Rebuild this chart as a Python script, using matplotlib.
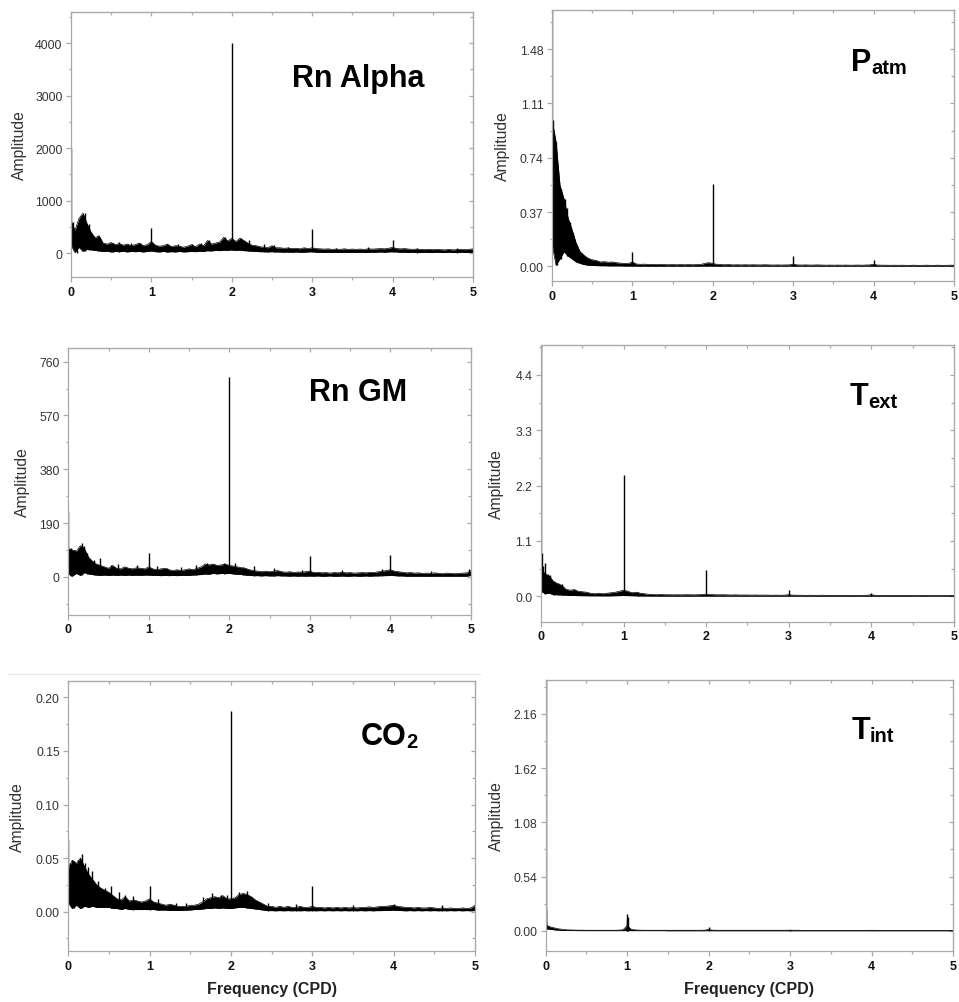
import numpy as np
import matplotlib
matplotlib.use('Agg')
import matplotlib.pyplot as plt
from matplotlib.ticker import MultipleLocator
from matplotlib.lines import Line2D

plt.rcParams['font.family'] = ['Liberation Sans', 'DejaVu Sans']

# frequency grid of the band envelopes (CPD)
freq = np.linspace(0, 5, 101)
xticks = [0, 1, 2, 3, 4, 5]

# ---- Rn Alpha ----
rna_upper = [620, 430, 660, 760, 560, 400, 290, 330, 190, 170,
             200, 160, 180, 150, 170, 140, 160, 190, 140, 160,
             220, 150, 130, 140, 170, 120, 140, 130, 110, 130,
             160, 120, 170, 140, 240, 170, 190, 210, 300, 230,
             280, 220, 280, 240, 190, 150, 140, 120, 110, 100,
             140, 100, 100, 90, 95, 85, 90, 80, 100, 85,
             100, 85, 80, 75, 80, 70, 75, 70, 80, 70,
             75, 70, 75, 70, 80, 75, 80, 85, 80, 90,
             110, 85, 80, 85, 75, 70, 75, 70, 65, 70,
             65, 70, 65, 60, 70, 60, 65, 70, 65, 70,
             80]
rna_lower = [150, 10, 110, 30, 70, 60, 50, 40, 30, 35,
             20, 30, 25, 35, 20, 30, 25, 30, 20, 30,
             40, 25, 20, 30, 20, 25, 20, 30, 20, 25,
             30, 25, 35, 30, 45, 40, 50, 45, 55, 50,
             60, 50, 55, 45, 40, 35, 30, 25, 25, 20,
             25, 20, 20, 15, 20, 15, 20, 15, 15, 20,
             25, 15, 15, 10, 15, 10, 15, 10, 15, 10,
             15, 10, 15, 10, 15, 15, 15, 20, 15, 20,
             25, 20, 15, 15, 10, 15, 10, 10, 15, 10,
             10, 15, 10, 10, 15, 10, 10, 15, 10, 10,
             15]
rna_spike_f = [0.0, 0.02, 0.07, 0.12, 0.17, 0.23, 0.34, 0.52, 0.6, 0.75,
               0.86, 1.0, 1.19, 1.33, 1.5, 1.62, 1.72, 1.91, 2.0, 2.12,
               2.22, 2.4, 2.52, 2.7, 3.0, 3.3, 3.7, 4.0, 4.3, 4.8]
rna_spike_a = [2000, 600, 520, 700, 770, 550, 330, 200, 210, 190,
               190, 470, 170, 170, 170, 190, 250, 310, 4000, 290,
               240, 170, 150, 120, 450, 100, 110, 240, 100, 100]

# ---- P atm ----
patm_upper = [1.0, 0.85, 0.55, 0.46, 0.33, 0.25, 0.16, 0.10, 0.075, 0.055,
              0.045, 0.04, 0.03, 0.032, 0.028, 0.03, 0.025, 0.022, 0.02, 0.02,
              0.03, 0.016, 0.014, 0.015, 0.013, 0.014, 0.012, 0.013, 0.012, 0.011,
              0.012, 0.011, 0.012, 0.011, 0.012, 0.011, 0.012, 0.013, 0.02, 0.025,
              0.02, 0.014, 0.012, 0.011, 0.012, 0.01, 0.011, 0.01, 0.011, 0.01,
              0.011, 0.01, 0.01, 0.011, 0.01, 0.009, 0.01, 0.009, 0.01, 0.01,
              0.015, 0.01, 0.009, 0.01, 0.009, 0.009, 0.01, 0.009, 0.008, 0.009,
              0.008, 0.009, 0.008, 0.009, 0.008, 0.008, 0.009, 0.008, 0.009, 0.01,
              0.014, 0.009, 0.008, 0.008, 0.007, 0.008, 0.007, 0.008, 0.007, 0.007,
              0.008, 0.007, 0.007, 0.008, 0.007, 0.007, 0.008, 0.007, 0.007, 0.008,
              0.008]
patm_lower = [0.15, 0.01, 0.05, 0.10, 0.07, 0.05, 0.03, 0.02, 0.012, 0.008,
              0.006, 0.005, 0.004, 0.004, 0.003, 0.003, 0.003, 0.003, 0.002, 0.002,
              0.002, 0.002, 0.001, 0.002, 0.001, 0.002, 0.001, 0.002, 0.001, 0.002,
              0.001, 0.002, 0.001, 0.002, 0.001, 0.002, 0.001, 0.002, 0.002, 0.002,
              0.002, 0.002, 0.001, 0.002, 0.001, 0.002, 0.001, 0.002, 0.001, 0.002,
              0.001, 0.002, 0.001, 0.002, 0.001, 0.002, 0.001, 0.002, 0.001, 0.002,
              0.002, 0.001, 0.002, 0.001, 0.002, 0.001, 0.002, 0.001, 0.002, 0.001,
              0.002, 0.001, 0.002, 0.001, 0.002, 0.001, 0.002, 0.001, 0.002, 0.001,
              0.002, 0.001, 0.002, 0.001, 0.002, 0.001, 0.002, 0.001, 0.002, 0.001,
              0.002, 0.001, 0.002, 0.001, 0.002, 0.001, 0.002, 0.001, 0.002, 0.001,
              0.002]
patm_spike_f = [0.0, 0.01, 0.025, 0.045, 0.065, 0.085, 0.11, 0.13, 0.165, 0.19,
                0.22, 0.26, 1.0, 1.93, 2.0, 3.0, 4.0]
patm_spike_a = [2.0, 1.0, 0.6, 0.85, 0.66, 0.5, 0.53, 0.35, 0.46, 0.40,
                0.3, 0.23, 0.1, 0.025, 0.56, 0.071, 0.04]

# ---- Rn GM ----
rngm_upper = [100, 95, 90, 110, 100, 70, 55, 45, 40, 35,
              30, 40, 30, 28, 35, 30, 28, 32, 30, 28,
              35, 28, 25, 28, 30, 25, 22, 25, 22, 25,
              28, 25, 30, 35, 45, 42, 45, 40, 42, 45,
              40, 38, 35, 32, 30, 25, 22, 20, 18, 20,
              18, 20, 22, 18, 16, 18, 15, 17, 16, 18,
              20, 15, 16, 14, 15, 13, 15, 14, 16, 14,
              15, 13, 14, 15, 14, 16, 15, 18, 20, 22,
              25, 20, 18, 16, 14, 15, 13, 14, 12, 13,
              12, 14, 12, 11, 13, 12, 11, 12, 13, 14,
              22]
rngm_lower = [10, 2, 12, 5, 15, 10, 8, 6, 5, 6,
              5, 6, 5, 6, 5, 6, 5, 6, 5, 6,
              6, 5, 5, 4, 5, 4, 5, 4, 5, 5,
              5, 6, 7, 8, 10, 9, 12, 10, 12, 11,
              12, 10, 9, 8, 6, 5, 4, 4, 3, 4,
              3, 3, 4, 3, 3, 2, 3, 2, 3, 2,
              3, 2, 3, 2, 2, 3, 2, 2, 3, 2,
              2, 3, 2, 2, 3, 2, 3, 3, 4, 4,
              5, 4, 3, 3, 2, 2, 2, 2, 2, 2,
              2, 2, 2, 2, 2, 2, 2, 2, 2, 2,
              5]
rngm_spike_f = [0.0, 0.03, 0.08, 0.14, 0.17, 0.2, 0.23, 0.32, 0.4, 0.53,
                0.62, 0.72, 0.85, 1.0, 1.1, 1.22, 1.4, 1.58, 1.72, 1.78,
                1.93, 2.0, 2.07, 2.17, 2.3, 2.55, 2.9, 3.0, 3.4, 3.9,
                4.0, 4.5, 4.98]
rngm_spike_a = [230, 100, 95, 105, 120, 110, 85, 60, 65, 40,
                45, 35, 42, 85, 38, 30, 35, 40, 48, 45,
                50, 705, 50, 35, 38, 30, 25, 75, 25, 28,
                77, 22, 28]

# ---- T ext ----
text_upper = [0.55, 0.45, 0.40, 0.30, 0.25, 0.22, 0.14, 0.12, 0.13, 0.10,
              0.09, 0.08, 0.06, 0.05, 0.06, 0.05, 0.06, 0.07, 0.08, 0.10,
              0.12, 0.10, 0.07, 0.08, 0.06, 0.05, 0.04, 0.035, 0.03, 0.035,
              0.03, 0.03, 0.028, 0.03, 0.028, 0.03, 0.03, 0.028, 0.03, 0.035,
              0.04, 0.035, 0.03, 0.028, 0.03, 0.028, 0.025, 0.028, 0.025, 0.025,
              0.025, 0.023, 0.025, 0.022, 0.023, 0.022, 0.02, 0.022, 0.02, 0.022,
              0.03, 0.022, 0.02, 0.02, 0.018, 0.02, 0.018, 0.018, 0.02, 0.018,
              0.018, 0.017, 0.018, 0.017, 0.018, 0.017, 0.016, 0.017, 0.018, 0.02,
              0.03, 0.018, 0.016, 0.017, 0.016, 0.015, 0.016, 0.015, 0.015, 0.016,
              0.015, 0.014, 0.015, 0.014, 0.015, 0.014, 0.014, 0.015, 0.014, 0.014,
              0.015]
text_lower = [0.10, 0.05, 0.06, 0.03, 0.03, 0.025, 0.02, 0.015, 0.015, 0.012,
              0.01, 0.01, 0.008, 0.008, 0.008, 0.007, 0.007, 0.008, 0.01, 0.012,
              0.015, 0.012, 0.01, 0.008, 0.006, 0.005, 0.004, 0.003, 0.003, 0.003,
              0.003, 0.002, 0.003, 0.002, 0.003, 0.002, 0.003, 0.002, 0.003, 0.003,
              0.004, 0.003, 0.002, 0.003, 0.002, 0.003, 0.002, 0.003, 0.002, 0.002,
              0.002, 0.003, 0.002, 0.002, 0.003, 0.002, 0.002, 0.003, 0.002, 0.002,
              0.003, 0.002, 0.002, 0.003, 0.002, 0.002, 0.003, 0.002, 0.002, 0.002,
              0.002, 0.003, 0.002, 0.002, 0.003, 0.002, 0.002, 0.003, 0.002, 0.002,
              0.003, 0.002, 0.002, 0.003, 0.002, 0.002, 0.003, 0.002, 0.002, 0.002,
              0.002, 0.003, 0.002, 0.002, 0.003, 0.002, 0.002, 0.003, 0.002, 0.002,
              0.002]
text_spike_f = [0.0, 0.008, 0.02, 0.05, 0.08, 0.11, 0.16, 0.21, 0.26, 0.4,
                1.0, 1.17, 2.0, 3.0, 4.0]
text_spike_a = [6.0, 0.85, 0.6, 0.67, 0.45, 0.42, 0.28, 0.26, 0.24, 0.14,
                2.4, 0.09, 0.53, 0.13, 0.07]

# ---- CO2 ----
co2_upper = [0.040, 0.048, 0.045, 0.050, 0.042, 0.035, 0.030, 0.025, 0.022, 0.020,
             0.018, 0.015, 0.012, 0.011, 0.014, 0.010, 0.011, 0.010, 0.009, 0.010,
             0.012, 0.009, 0.008, 0.007, 0.006, 0.007, 0.006, 0.005, 0.005, 0.005,
             0.006, 0.006, 0.007, 0.009, 0.012, 0.013, 0.014, 0.013, 0.015, 0.012,
             0.012, 0.013, 0.016, 0.017, 0.016, 0.014, 0.011, 0.009, 0.007, 0.005,
             0.005, 0.004, 0.005, 0.004, 0.005, 0.004, 0.004, 0.005, 0.004, 0.004,
             0.005, 0.004, 0.004, 0.0035, 0.004, 0.0035, 0.004, 0.0035, 0.004, 0.0035,
             0.004, 0.0035, 0.004, 0.004, 0.0045, 0.004, 0.0045, 0.005, 0.005, 0.0055,
             0.006, 0.005, 0.0045, 0.004, 0.004, 0.0035, 0.004, 0.0035, 0.0035, 0.004,
             0.0035, 0.003, 0.0035, 0.003, 0.0035, 0.003, 0.003, 0.0035, 0.003, 0.0035,
             0.006]
co2_lower = [0.008, 0.003, 0.006, 0.003, 0.005, 0.004, 0.005, 0.004, 0.004, 0.004,
             0.004, 0.003, 0.003, 0.002, 0.003, 0.002, 0.002, 0.002, 0.002, 0.002,
             0.002, 0.002, 0.0015, 0.0015, 0.0015, 0.0012, 0.0012, 0.0012, 0.0012, 0.0015,
             0.0015, 0.002, 0.002, 0.0025, 0.003, 0.003, 0.0035, 0.003, 0.0035, 0.003,
             0.003, 0.0035, 0.004, 0.004, 0.0035, 0.003, 0.0025, 0.002, 0.0015, 0.001,
             0.001, 0.0008, 0.001, 0.0008, 0.001, 0.0008, 0.001, 0.0008, 0.001, 0.0008,
             0.001, 0.0008, 0.001, 0.0008, 0.001, 0.0008, 0.001, 0.0008, 0.001, 0.0008,
             0.001, 0.0008, 0.001, 0.0008, 0.001, 0.0008, 0.001, 0.001, 0.0012, 0.0012,
             0.0015, 0.0012, 0.001, 0.0008, 0.001, 0.0008, 0.001, 0.0008, 0.001, 0.0008,
             0.001, 0.0008, 0.001, 0.0008, 0.001, 0.0008, 0.001, 0.0008, 0.001, 0.0008,
             0.001]
co2_spike_f = [0.0, 0.02, 0.04, 0.07, 0.12, 0.15, 0.17, 0.2, 0.24, 0.29,
               0.36, 0.45, 0.53, 0.62, 0.7, 0.8, 1.0, 1.1, 1.33, 1.45,
               1.66, 1.77, 1.88, 1.95, 2.0, 2.1, 2.2, 2.45, 2.8, 3.0,
               3.5, 4.0, 4.6]
co2_spike_a = [0.067, 0.045, 0.048, 0.047, 0.048, 0.05, 0.054, 0.045, 0.042, 0.038,
               0.029, 0.022, 0.024, 0.018, 0.016, 0.015, 0.024, 0.012, 0.008, 0.008,
               0.014, 0.017, 0.016, 0.016, 0.187, 0.018, 0.019, 0.008, 0.007, 0.024,
               0.006, 0.007, 0.006]

# ---- T int ----
tint_upper = [0.06, 0.04, 0.03, 0.02, 0.015, 0.01, 0.008, 0.007, 0.006, 0.006,
              0.005, 0.005, 0.005, 0.005, 0.005, 0.005, 0.005, 0.005, 0.006, 0.01,
              0.05, 0.015, 0.008, 0.006, 0.005, 0.005, 0.005, 0.005, 0.005, 0.005,
              0.005, 0.005, 0.005, 0.005, 0.005, 0.005, 0.005, 0.005, 0.005, 0.006,
              0.012, 0.006, 0.005, 0.005, 0.005, 0.005, 0.005, 0.005, 0.005, 0.005,
              0.005, 0.005, 0.005, 0.005, 0.005, 0.005, 0.005, 0.005, 0.005, 0.005,
              0.006, 0.005, 0.005, 0.004, 0.004, 0.004, 0.004, 0.004, 0.004, 0.004,
              0.004, 0.004, 0.004, 0.004, 0.004, 0.004, 0.004, 0.004, 0.004, 0.004,
              0.005, 0.004, 0.004, 0.004, 0.004, 0.004, 0.004, 0.004, 0.004, 0.004,
              0.004, 0.004, 0.004, 0.004, 0.004, 0.004, 0.004, 0.004, 0.004, 0.004,
              0.004]
tint_lower = [0.02, 0.015, 0.01, 0.006, 0.004, 0.003, 0.002, 0.002, 0.001, 0.001,
              0.001, 0.001, 0.001, 0.001, 0.001, 0.001, 0.001, 0.001, 0.001, 0.001,
              0.002, 0.001, 0.001, 0.001, 0.001, 0.001, 0.001, 0.001, 0.001, 0.001,
              0.0, 0.0, 0.0, 0.0, 0.0, 0.0, 0.0, 0.0, 0.0, 0.0,
              0.001, 0.0, 0.0, 0.0, 0.0, 0.0, 0.0, 0.0, 0.0, 0.0,
              0.0, 0.0, 0.0, 0.0, 0.0, 0.0, 0.0, 0.0, 0.0, 0.0,
              0.0, 0.0, 0.0, 0.0, 0.0, 0.0, 0.0, 0.0, 0.0, 0.0,
              0.0, 0.0, 0.0, 0.0, 0.0, 0.0, 0.0, 0.0, 0.0, 0.0,
              0.0, 0.0, 0.0, 0.0, 0.0, 0.0, 0.0, 0.0, 0.0, 0.0,
              0.0, 0.0, 0.0, 0.0, 0.0, 0.0, 0.0, 0.0, 0.0, 0.0,
              0.0]
tint_spike_f = [0.0, 0.005, 0.01, 0.995, 1.0, 1.005, 2.0, 3.0]
tint_spike_a = [3.0, 0.22, 0.1, 0.12, 0.17, 0.14, 0.04, 0.012]

# axis ticks per panel
rna_yticks = [0, 1000, 2000, 3000, 4000]
rna_ylabels = ['0', '1000', '2000', '3000', '4000']
patm_yticks = [0, 0.37, 0.74, 1.11, 1.48]
patm_ylabels = ['0.00', '0.37', '0.74', '1.11', '1.48']
rngm_yticks = [0, 190, 380, 570, 760]
rngm_ylabels = ['0', '190', '380', '570', '760']
text_yticks = [0, 1.1, 2.2, 3.3, 4.4]
text_ylabels = ['0.0', '1.1', '2.2', '3.3', '4.4']
co2_yticks = [0, 0.05, 0.10, 0.15, 0.20]
co2_ylabels = ['0.00', '0.05', '0.10', '0.15', '0.20']
tint_yticks = [0, 0.54, 1.08, 1.62, 2.16]
tint_ylabels = ['0.00', '0.54', '1.08', '1.62', '2.16']

GRAY = '#a9a9a9'

fig = plt.figure(figsize=(9.59, 10.03), dpi=100)


def panel(rect, upper, lower, sf, sa, ylim, yt, yl, ylx, name, sub, name_xy,
          sub_dx=0, xlabel=False):
    ax = fig.add_axes(rect)
    ax.fill_between(freq, lower, upper, color='black', lw=0)
    ax.plot(freq, upper, color='black', lw=0.5)
    ax.plot(freq, lower, color='black', lw=0.5)
    # narrow peaks rise from the band floor at the nearest grid point
    idx = np.rint(np.array(sf) / 0.05).astype(int)
    base = np.array(lower)[idx]
    ax.vlines(sf, base, sa, color='black', lw=1.0)
    ax.set_xlim(0, 5)
    ax.set_ylim(*ylim)
    ax.set_xticks(xticks, [str(t) for t in xticks])
    ax.set_yticks(yt, yl)
    ax.xaxis.set_minor_locator(MultipleLocator(0.5))
    ax.yaxis.set_minor_locator(MultipleLocator(yt[1] / 2))
    ax.tick_params(which='both', direction='out', color=GRAY, width=0.9)
    ax.tick_params(which='major', length=3.6)
    ax.tick_params(which='minor', length=1.8)
    ax.tick_params(axis='y', labelsize=8.8, labelcolor='#333333', pad=2.5)
    ax.tick_params(axis='x', labelsize=9, labelcolor='#111111', pad=2.5)
    for lab in ax.get_xticklabels():
        lab.set_fontweight('bold')
    for s in ax.spines.values():
        s.set_color(GRAY)
        s.set_linewidth(0.9)

    top = ax.secondary_xaxis('top')
    top.set_ticks(xticks)
    top.xaxis.set_minor_locator(MultipleLocator(0.5))
    top.tick_params(which='both', direction='in', labeltop=False, color=GRAY, width=0.9)
    top.tick_params(which='major', length=3.0)
    top.tick_params(which='minor', length=2.0)
    top.spines['top'].set_color(GRAY)
    right = ax.secondary_yaxis('right')
    right.set_ticks(yt)
    right.yaxis.set_minor_locator(MultipleLocator(yt[1] / 2))
    right.tick_params(which='both', direction='in', labelright=False, color=GRAY, width=0.9)
    right.tick_params(which='major', length=3.0)
    right.tick_params(which='minor', length=2.0)
    right.spines['right'].set_color(GRAY)

    ax.set_ylabel('Amplitude', fontsize=11.3, color='#333333')
    ax.yaxis.set_label_coords(ylx, 0.5)
    if xlabel:
        ax.set_xlabel('Frequency (CPD)', fontsize=11.5, fontweight='bold', color='#222222')
        ax.xaxis.set_label_coords(0.5, -0.108)

    t = ax.text(name_xy[0], name_xy[1], name, transform=ax.transAxes,
                fontsize=22, fontweight='bold', ha='left' if sub else 'center',
                va='baseline', color='black')
    if sub:
        ax.annotate(sub, xy=(1, 0), xycoords=t, xytext=(sub_dx, 0),
                    textcoords='offset points', fontsize=14.5, fontweight='bold',
                    ha='left', va='bottom', color='black')
    return ax


panel([0.0740, 0.7228, 0.4192, 0.2642], rna_upper, rna_lower, rna_spike_f, rna_spike_a,
      (-457, 4590), rna_yticks, rna_ylabels, -0.1095, 'Rn Alpha', None, (0.714, 0.721))
panel([0.5756, 0.7188, 0.4192, 0.2702], patm_upper, patm_lower, patm_spike_f, patm_spike_a,
      (-0.10, 1.746), patm_yticks, patm_ylabels, -0.105, 'P', 'atm', (0.745, 0.779))
panel([0.0712, 0.3861, 0.4199, 0.2659], rngm_upper, rngm_lower, rngm_spike_f, rngm_spike_a,
      (-134, 808), rngm_yticks, rngm_ylabels, -0.095, 'Rn GM', None, (0.719, 0.805))
panel([0.5641, 0.3792, 0.4306, 0.2762], text_upper, text_lower, text_spike_f, text_spike_a,
      (-0.505, 5.0), text_yticks, text_ylabels, -0.09, 'T', 'ext', (0.748, 0.786))
panel([0.0712, 0.0505, 0.4241, 0.2698], co2_upper, co2_lower, co2_spike_f, co2_spike_a,
      (-0.037, 0.2155), co2_yticks, co2_ylabels, -0.1065, 'CO', '2', (0.72, 0.766),
      sub_dx=-0.5, xlabel=True)
panel([0.5690, 0.0505, 0.4247, 0.2708], tint_upper, tint_lower, tint_spike_f, tint_spike_a,
      (-0.205, 2.50), tint_yticks, tint_ylabels, -0.1036, 'T', 'int', (0.75, 0.785),
      xlabel=True)

# faint seam of the original composite
fig.add_artist(Line2D([0.008, 0.5], [1 - 675 / 1003] * 2, transform=fig.transFigure,
                      color='#e6e6e6', lw=0.8))

fig.savefig('out.png', dpi=100)
